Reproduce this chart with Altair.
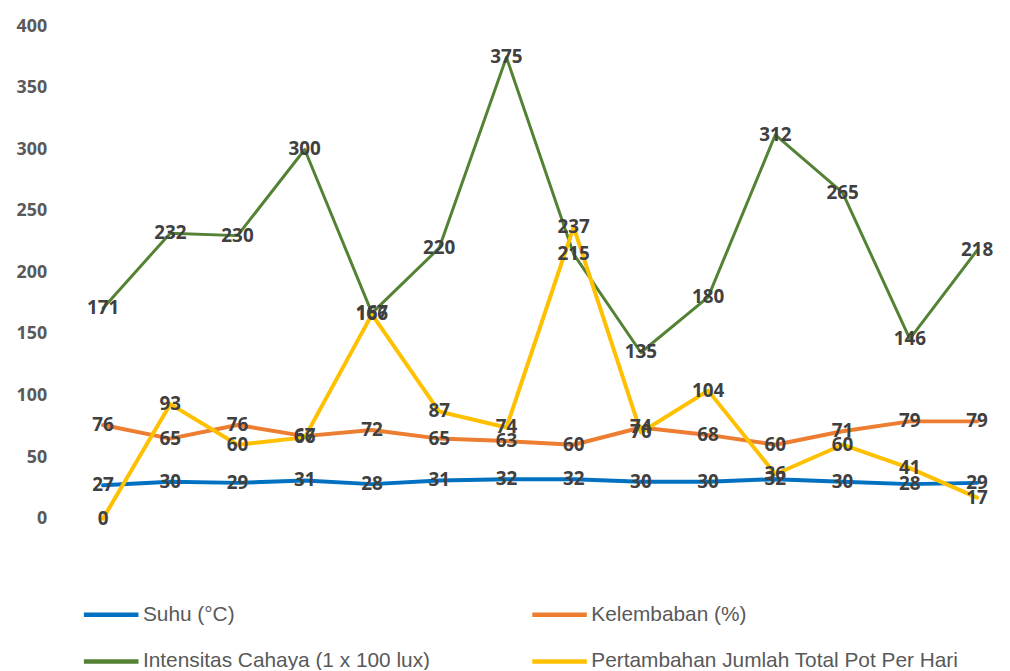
import altair as alt
import pandas as pd

series_names = ["Suhu (°C)", "Kelembaban (%)", "Intensitas Cahaya (1 x 100 lux)",
                "Pertambahan Jumlah Total Pot Per Hari"]
colors = ["#0070C0", "#ED7D31", "#548235", "#FFC000"]

suhu = [27, 30, 29, 31, 28, 31, 32, 32, 30, 30, 32, 30, 28, 29]
kelembaban = [76, 65, 76, 67, 72, 65, 63, 60, 74, 68, 60, 71, 79, 79]
intensitas = [171, 232, 230, 300, 167, 220, 375, 215, 135, 180, 312, 265, 146, 218]
pertambahan = [0, 93, 60, 66, 166, 87, 74, 237, 70, 104, 36, 60, 41, 17]

values = [suhu, kelembaban, intensitas, pertambahan]
rows = []
for s, (name, vals) in enumerate(zip(series_names, values)):
    for i, v in enumerate(vals):
        rows.append({"idx": i, "series": name, "value": v, "order": s})
df = pd.DataFrame(rows)

# legend fills column-major: order so that rows read Suhu|Kelembaban, Intensitas|Pertambahan
legend_order = [series_names[0], series_names[2], series_names[1], series_names[3]]
legend_colors = [colors[0], colors[2], colors[1], colors[3]]

x = alt.X("idx:Q", scale=alt.Scale(domain=[-0.484, 13.15], nice=False, zero=False), axis=None)
y = alt.Y("value:Q", scale=alt.Scale(domain=[0, 400], nice=False),
          axis=alt.Axis(values=[0, 50, 100, 150, 200, 250, 300, 350, 400], grid=False,
                        domain=False, ticks=False, labelPadding=24, labelFontSize=18,
                        labelFont="Open Sans", labelFontWeight="bold", labelColor="#595959",
                        title=None))

lines = alt.Chart(df).mark_line(strokeCap="round", strokeJoin="round").encode(
    x=x, y=y,
    color=alt.Color("series:N", sort=legend_order,
                    scale=alt.Scale(domain=legend_order, range=legend_colors),
                    legend=alt.Legend(orient="none", legendX=11, legendY=563, columns=2,
                                      gridAlign="each", columnPadding=93, rowPadding=7,
                                      symbolType="stroke", symbolSize=3025, symbolStrokeWidth=4.5,
                                      labelFont="Liberation Sans", labelFontSize=21,
                                      labelColor="#595959", labelOffset=2, labelLimit=500,
                                      title=None)),
    strokeWidth=alt.condition(alt.datum.series == series_names[2], alt.value(3), alt.value(4)),
    detail="series:N",
)

labels = alt.Chart(df).mark_text(font="Open Sans", fontWeight="bold", fontSize=19,
                                 color="#404040", baseline="middle", align="center").encode(
    x=x, y=y, text="value:Q")

chart = alt.layer(lines, labels).properties(
    width=924, height=496,
    autosize=alt.AutoSizeParams(type="none"),
    padding={"left": 63, "top": 16, "right": 15, "bottom": 150},
).configure_view(stroke=None)

chart.save("out.html", embed_options={"renderer": "svg", "actions": False})
